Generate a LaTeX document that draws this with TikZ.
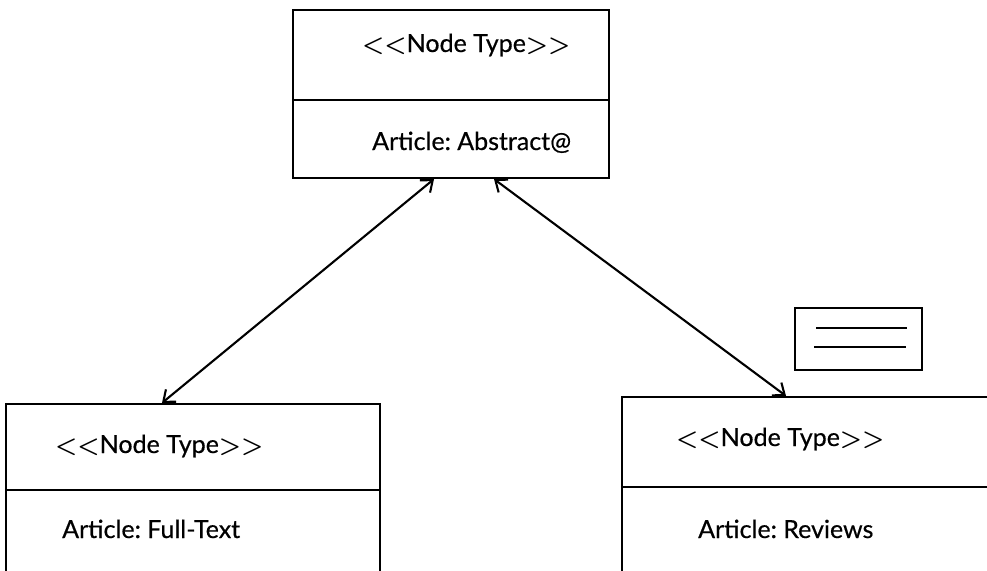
\documentclass[tikz,border=0pt]{standalone}
\usepackage{fontspec}
\setmainfont{Lato}[FakeBold=0.5]
\usetikzlibrary{arrows.meta}
\newcommand{\angl}[1]{\mbox{\boldmath$\mathord{#1}$}}
\newcommand{\stereo}[1]{\angl{<}\angl{<}#1\angl{>}\angl{>}}
\tikzset{
  box/.style={draw=black, line width=2.1pt, inner sep=0pt},
  lbl/.style={inner sep=0pt, anchor=base west, font=\fontsize{25}{29}\selectfont\frenchspacing},
  link/.style={line width=2.1pt, {Straight Barb[length=10pt,width=16pt]}-{Straight Barb[length=10pt,width=16pt]}},
}
\begin{document}
\begin{tikzpicture}[x=1pt,y=-1pt]
\useasboundingbox (0,0) rectangle (987,570);
\clip (0,0) rectangle (987,570);
\fill[white] (0,0) rectangle (987,570);
% top box
\node[box, minimum width=316pt, minimum height=168pt] (top) at (451,94) {};
\draw[line width=2.1pt] (top.west |- 0,100) -- (top.east |- 0,100);
\node[lbl] (t1) at (362,52) {\stereo{Node Type}};
\node[lbl] (t2) at (372,150) {Article: Abstract@};
% left box
\node[box, minimum width=374pt, minimum height=186pt] (left) at (193,497) {};
\draw[line width=2.1pt] (left.west |- 0,490) -- (left.east |- 0,490);
\node[lbl] (l1) at (55,453) {\stereo{Node Type}};
\node[lbl] (l2) at (62,538) {Article: Full-Text};
% right box
\node[box, minimum width=390pt, minimum height=190pt] (right) at (817,492) {};
\draw[line width=2.1pt] (right.west |- 0,487) -- (right.east |- 0,487);
\node[lbl] (r1) at (676,446) {\stereo{Node Type}};
\node[lbl] (r2) at (698,538) {Article: Reviews};
% small box
\node[box, line width=1.6pt, minimum width=127pt, minimum height=62pt] (small) at (858.5,339) {};
\draw[line width=1.6pt] (small.west |- 0,328) ++(22,0) -- ++(91,0);
\draw[line width=1.6pt] (small.west |- 0,347) ++(20,0) -- ++(92,0);
% connectors
\draw[link] (top.south -| 434,0) -- (left.north -| 162,0);
\draw[link] (top.south -| 494,0) -- (right.north -| 786,0);
\end{tikzpicture}
\end{document}
